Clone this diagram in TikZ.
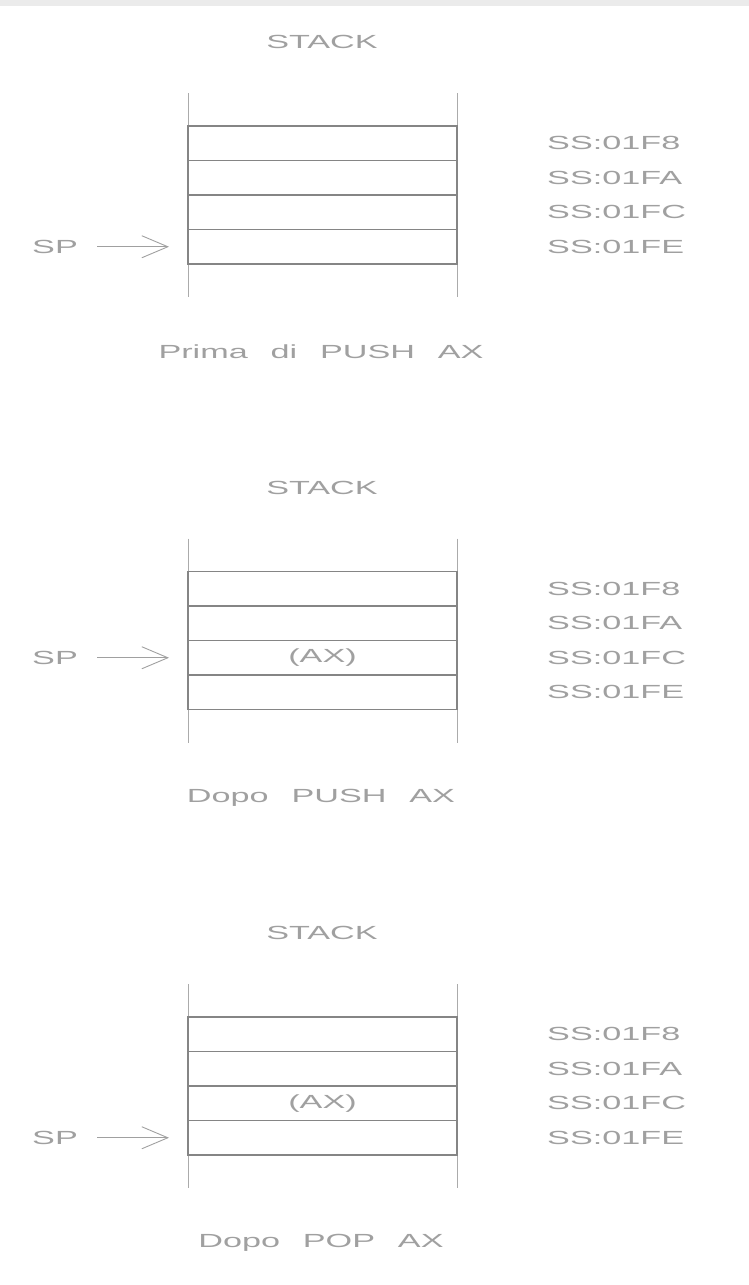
\documentclass[tikz,border=0pt]{standalone}
\usepackage{fontspec}
\usepackage{graphicx}
\setmainfont[WordSpace=2.4]{Liberation Sans}
\usetikzlibrary{positioning}
\usetikzlibrary{arrows.meta}
\definecolor{txtgray}{HTML}{A0A0A0}
\definecolor{rowgray}{HTML}{858585}
\definecolor{railgray}{HTML}{ABABAB}
\definecolor{bandgray}{HTML}{EBEBEB}
\newcommand{\cadtext}[1]{\scalebox{1.8}[1]{#1}}
\tikzset{txt/.style = {font=\fontsize{19}{19}\selectfont, text=txtgray, inner sep=0}}
\tikzset{cell/.style = {draw=rowgray, line width=1.2pt, minimum width=269pt, minimum height=34.5pt, inner sep=0, outer sep=0}}
\tikzset{rail/.style = {draw=railgray, line width=1pt}}
\tikzset{ptr/.style = {-{Straight Barb[length=26pt, width=22pt]}, draw=txtgray, line width=0.9pt, shorten <=19pt, shorten >=19pt}}

\begin{document}
\begin{tikzpicture}[x=1pt, y=-1pt]
    \useasboundingbox (0,0) rectangle (749,1285);
    \fill[bandgray] (0,0) rectangle (749,6);

    \foreach \k/\sp/\ax/\cap in {0/4/0/{Prima di PUSH AX}, 1/3/3/{Dopo PUSH AX}, 2/4/3/{Dopo POP AX}} {
      \begin{scope}[yshift={-445.5*\k}]
        \node[txt] (p\k-title) at (322, 42) {\cadtext{STACK}};
        \coordinate (p\k-lt) at (188, 93);
        \coordinate (p\k-lb) at (188, 297);
        \coordinate (p\k-rt) at (457, 93);
        \coordinate (p\k-rb) at (457, 297);
        \draw[rail] (p\k-lt) -- (p\k-lb);
        \draw[rail] (p\k-rt) -- (p\k-rb);
        \foreach \i/\h in {1/8, 2/A, 3/C, 4/E} {
          \pgfmathsetmacro\ry{126 + 34.5*(\i - 0.5)}
          \node[cell] (p\k-r\i) at (322.5, \ry) {};
          \node[txt, anchor=west] (p\k-a\i) at (547, \ry) {\cadtext{SS:01F\h}};
        }
        \ifnum\ax>0
          \node[txt] (p\k-ax) at (p\k-r\ax) {\cadtext{(AX)}};
        \fi
        \pgfmathsetmacro\spy{126 + 34.5*(\sp - 0.5)}
        \node[txt, anchor=west] (p\k-sp) at (32, \spy) {\cadtext{SP}};
        \draw[ptr] (p\k-sp.east) -- (p\k-r\sp.west);
        \node[txt] (p\k-cap) at (321, 352) {\cadtext{\cap}};
      \end{scope}
    }
  \end{tikzpicture}
\end{document}
